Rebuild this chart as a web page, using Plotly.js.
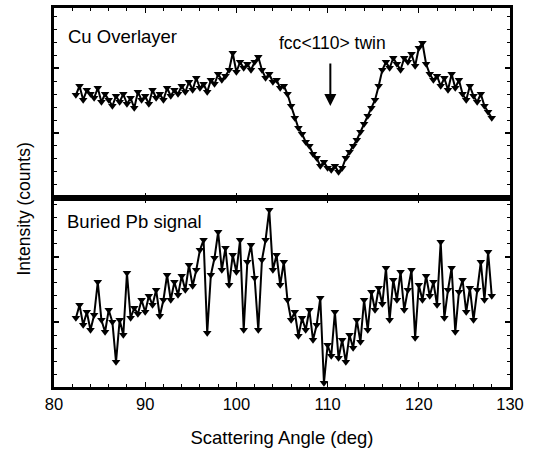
<!DOCTYPE html>
<html>
<head>
<meta charset="utf-8">
<script src="https://cdn.plot.ly/plotly-3.0.1.min.js"></script>
<style>html,body{margin:0;padding:0;background:#fff;}#chart{width:533px;height:459px;}</style>
</head>
<body>
<div id="chart"></div>
<script>
// Scattering angle (deg)
const angle = [82.4,82.8,83.2,83.6,84.0,84.4,84.8,85.2,85.6,86.0,86.4,86.8,87.2,87.6,88.0,88.4,88.8,89.2,89.6,90.0,
90.4,90.8,91.2,91.6,92.0,92.4,92.8,93.2,93.6,94.0,94.4,94.8,95.2,95.6,96.0,96.4,96.8,97.2,97.6,98.0,
98.4,98.8,99.2,99.6,100.0,100.4,100.8,101.2,101.6,102.0,102.4,102.8,103.2,103.6,104.0,104.4,104.8,105.2,105.6,106.0,
106.4,106.8,107.2,107.6,108.0,108.4,108.8,109.2,109.6,110.0,110.4,110.8,111.2,111.6,112.0,112.4,112.8,113.2,113.6,114.0,
114.4,114.8,115.2,115.6,116.0,116.4,116.8,117.2,117.6,118.0,118.4,118.8,119.2,119.6,120.0,120.4,120.8,121.2,121.6,122.0,
122.4,122.8,123.2,123.6,124.0,124.4,124.8,125.2,125.6,126.0,126.4,126.8,127.2,127.6,128.0];

// Cu overlayer intensity (arb. counts)
const cuOverlayer = [103,112,98,108,104,100,110,96,104,98,92,102,96,104,94,100,90,106,98,102,
94,108,100,104,98,110,102,108,104,112,106,116,108,120,110,114,106,118,114,124,
118,122,128,145,126,136,130,134,128,136,141,128,120,124,116,118,110,112,104,92,
80,70,64,56,52,44,40,32,36,30,28,32,26,30,40,46,52,58,66,74,
82,90,98,112,128,136,130,140,134,128,140,136,144,132,150,155,134,124,118,122,
112,120,108,124,110,118,104,98,112,102,96,104,92,86,80];

// Buried Pb signal intensity (arb. counts)
const buriedPb = [69,82,62,75,57,72,105,67,55,77,65,25,67,52,114,69,79,73,87,75,
91,82,97,71,87,112,87,105,92,111,97,122,101,117,137,147,54,112,129,155,
117,139,102,132,115,147,57,125,142,109,57,127,147,177,117,132,102,125,87,67,
75,51,69,57,77,47,62,89,4,42,31,75,29,47,25,52,39,67,45,87,
57,95,77,99,83,119,67,107,87,115,77,97,117,49,102,87,111,91,105,82,
145,69,97,119,55,95,107,75,99,67,97,125,87,135,91];

const xTicks = [80,90,100,110,120,130];
const labels = {
  xTitle: "Scattering Angle (deg)",
  yTitle: "Intensity (counts)",
  top: "Cu Overlayer",
  bottom: "Buried Pb signal",
  feature: "fcc<110> twin"
};
const featureAngle = 110.3;

const FONT = "Liberation Sans, Arial, Helvetica, sans-serif";
const markerStyle = {symbol: "triangle-down", size: 7.5, color: "#000"};
const lineStyle = {color: "#000", width: 2};

const traces = [
  {x: angle, y: cuOverlayer, xaxis: "x2", yaxis: "y2", mode: "lines+markers",
   line: lineStyle, marker: markerStyle, hoverinfo: "skip"},
  {x: angle, y: buriedPb, xaxis: "x", yaxis: "y", mode: "lines+markers",
   line: lineStyle, marker: markerStyle, hoverinfo: "skip"}
];

const xCommon = {
  range: [80, 130], tickvals: xTicks, ticks: "inside", ticklen: 5, tickwidth: 1.2, tickcolor: "#000",
  showline: true, linecolor: "#000", linewidth: 3, mirror: "allticks", showgrid: false, zeroline: false,
  minor: {dtick: 2, ticks: "inside", ticklen: 3, tickwidth: 1, tickcolor: "#000"}
};
const yCommon = {
  ticks: "inside", ticklen: 5, tickwidth: 1.2, tickcolor: "#000", dtick: 65, tick0: 0,
  showticklabels: false, showline: true, linecolor: "#000", linewidth: 3, mirror: "allticks",
  showgrid: false, zeroline: false,
  minor: {dtick: 13, ticks: "inside", ticklen: 3, tickwidth: 1, tickcolor: "#000"}
};

const layout = {
  width: 533, height: 459,
  margin: {l: 54, r: 23, t: 8, b: 72},
  paper_bgcolor: "#fff", plot_bgcolor: "#fff",
  showlegend: false,
  font: {family: FONT, color: "#000", size: 16},
  xaxis: Object.assign({}, xCommon, {anchor: "y", tickfont: {size: 16.5, family: FONT},
    title: {text: labels.xTitle, font: {size: 18.5, family: FONT}, standoff: 20}}),
  xaxis2: Object.assign({}, xCommon, {anchor: "y2", matches: "x", showticklabels: false}),
  yaxis: Object.assign({}, yCommon, {domain: [0, 0.4987], range: [0, 189]}),
  yaxis2: Object.assign({}, yCommon, {domain: [0.4987, 1], range: [0, 190]}),
  annotations: [
    {text: labels.yTitle, xref: "paper", yref: "paper", x: 0, y: 0.5, xanchor: "center", yanchor: "middle",
     xshift: -31, yshift: -12, textangle: -90, showarrow: false, font: {size: 17.5, family: FONT}},
    {text: labels.top, xref: "paper", yref: "paper", x: 0, y: 1, xanchor: "left", yanchor: "top",
     xshift: 12, yshift: -16, showarrow: false, font: {size: 18.5, family: FONT}},
    {text: labels.bottom, xref: "paper", yref: "paper", x: 0, y: 0.4987, xanchor: "left", yanchor: "top",
     xshift: 11, yshift: -11, showarrow: false, font: {size: 18.5, family: FONT}},
    {text: labels.feature, xref: "x2", yref: "y2", x: featureAngle, y: 155, xanchor: "center", yanchor: "middle",
     xshift: 2, showarrow: false, font: {size: 17.5, family: FONT}},
    {text: "", xref: "x2", yref: "y2", x: featureAngle, y: 92, ax: 0, ay: -44,
     showarrow: true, arrowhead: 2, arrowsize: 1.2, arrowwidth: 2, arrowcolor: "#000"}
  ]
};

Plotly.newPlot("chart", traces, layout, {staticPlot: true, displayModeBar: false});
</script>
</body>
</html>
